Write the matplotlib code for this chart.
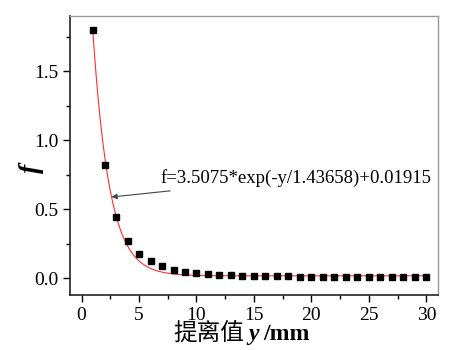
import numpy as np
import matplotlib
matplotlib.use('Agg')
import matplotlib.pyplot as plt
from matplotlib.ticker import MultipleLocator
from matplotlib.offsetbox import TextArea, HPacker, AnchoredOffsetbox

plt.rcParams['font.family'] = ['Liberation Serif', 'Noto Sans CJK SC']

# 提离值 y (mm) 与 f
y_mm = np.arange(1, 31)
f_val = np.array([1.80, 0.82, 0.445, 0.27, 0.18, 0.123, 0.089, 0.065, 0.048, 0.039,
                  0.031, 0.026, 0.022, 0.020, 0.018, 0.017, 0.016, 0.015, 0.014, 0.014,
                  0.013, 0.013, 0.012, 0.012, 0.011, 0.011, 0.010, 0.010, 0.010, 0.010])

# 拟合参数 f = A*exp(-y/t) + y0
A, t, y0 = 3.5075, 1.43658, 0.01915
fit_label = "f=3.5075*exp(-y/1.43658)+0.01915"

fig = plt.figure(figsize=(4.58, 3.5), dpi=100)
ax = fig.add_axes([0.153, 0.157, 0.803, 0.797])

xs = np.linspace(1, 30, 400)
ax.plot(xs, A * np.exp(-xs / t) + y0, color='#ff3030', linewidth=0.8)
ax.plot(y_mm, f_val, 's', color='black', markersize=5)

ax.annotate(fit_label, xy=(2.6, 0.59), xytext=(6.9, 0.73),
            fontsize=13.5, va='center', ha='left',
            arrowprops=dict(arrowstyle='-|>', color='#444444', lw=0.8,
                            mutation_scale=8, shrinkA=10, shrinkB=0))

ax.set_xlim(-1, 31)
ax.set_ylim(-0.12, 1.9)
ax.xaxis.set_major_locator(MultipleLocator(5))
ax.xaxis.set_minor_locator(MultipleLocator(2.5))
ax.yaxis.set_major_locator(MultipleLocator(0.5))
ax.yaxis.set_minor_locator(MultipleLocator(0.25))
ax.tick_params(which='major', direction='out', length=5, width=1, labelsize=14)
ax.tick_params(which='minor', direction='out', length=3, width=1)

for s in ['left', 'bottom']:
    ax.spines[s].set_color('#222222')
    ax.spines[s].set_linewidth(1.2)
for s in ['top', 'right']:
    ax.spines[s].set_color('#999999')
    ax.spines[s].set_linewidth(1.0)

# x 轴标题: 提离值 y/mm
parts = [
    TextArea('提离值', textprops=dict(fontsize=17, family=['Noto Sans CJK SC'])),
    TextArea('y', textprops=dict(fontsize=17, fontweight='bold', style='italic',
                                 family=['Liberation Serif'])),
    TextArea('/mm', textprops=dict(fontsize=17, fontweight='bold',
                                   family=['Liberation Serif'])),
]
box = HPacker(children=parts, align='baseline', pad=0, sep=3)
anch = AnchoredOffsetbox(loc='center', child=box, frameon=False,
                         bbox_to_anchor=(0.528, 0.046), bbox_transform=fig.transFigure,
                         borderpad=0, pad=0)
fig.add_artist(anch)

fig.text(0.068, 0.52, 'f', fontsize=20, fontweight='bold', style='italic',
         family=['Liberation Serif'], rotation=90, ha='center', va='center')

fig.savefig('out.png', dpi=100)
